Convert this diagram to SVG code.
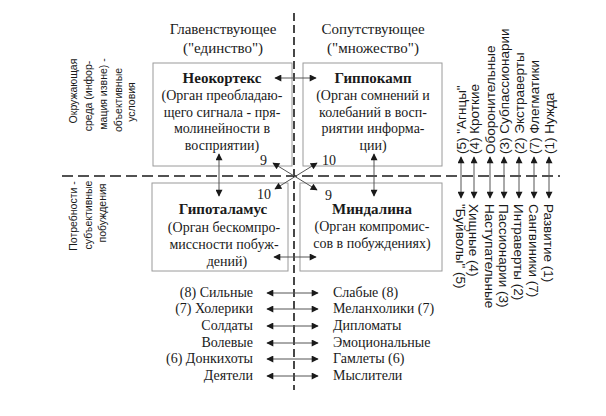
<svg xmlns="http://www.w3.org/2000/svg" width="606" height="416" viewBox="0 0 606 416">
<style>
.bg{fill:#fff}
.box{fill:none;stroke:#9a9a9a;stroke-width:1}
.s{font-family:"Liberation Serif","Times New Roman",serif;font-size:14px;fill:#1a1a1a}
.h{font-family:"Liberation Serif","Times New Roman",serif;font-size:15px;fill:#1a1a1a;text-anchor:middle}
.t{font-family:"Liberation Serif","Times New Roman",serif;font-size:14px;fill:#1a1a1a;text-anchor:middle}
.b{font-weight:bold;font-size:15px}
.n{font-family:"Liberation Serif","Times New Roman",serif;font-size:14px;fill:#1a1a1a}
.v{font-family:"Liberation Sans",Arial,sans-serif;font-size:13.5px;fill:#1a1a1a}
.vl{font-family:"Liberation Sans",Arial,sans-serif;font-size:10.5px;fill:#1a1a1a;text-anchor:middle}
.ax{stroke:#1a1a1a;stroke-width:1.6;fill:none}
.ar{stroke:#555;stroke-width:1;fill:none;marker-start:url(#ah);marker-end:url(#ah)}
.r{text-anchor:end}
</style>
<defs>
<marker id="ah" viewBox="0 0 10 10" refX="9" refY="5" markerWidth="9" markerHeight="7" markerUnits="userSpaceOnUse" orient="auto-start-reverse">
<path d="M0,0 L10,5 L0,10 Z" fill="#1a1a1a"/>
</marker>
</defs>
<rect class="bg" width="606" height="416"/>

<g id="axes">
<line class="ax" x1="294" y1="13" x2="294" y2="390" stroke-dasharray="8 4"/>
<line class="ax" x1="62" y1="176" x2="560" y2="176" stroke-dasharray="11 5"/>
</g>

<g id="headings">
<text class="h" x="223" y="34">Главенствующее</text>
<text class="h" x="223" y="53">("единство")</text>
<text class="h" x="373" y="34">Сопутствующее</text>
<text class="h" x="373" y="53">("множество")</text>
</g>

<g id="neocortex">
<rect class="box" x="153" y="63" width="139" height="103"/>
<text class="t b" x="222" y="83">Неокортекс</text>
<text class="t" x="222" y="100">(Орган преобладаю-</text>
<text class="t" x="222" y="117">щего сигнала - пря-</text>
<text class="t" x="222" y="133">молинейности в</text>
<text class="t" x="222" y="150">восприятии)</text>
</g>

<g id="hippocampus">
<rect class="box" x="303" y="63" width="139" height="103"/>
<text class="t b" x="373" y="83">Гиппокамп</text>
<text class="t" x="373" y="100">(Орган сомнений  и</text>
<text class="t" x="373" y="117">колебаний в восп-</text>
<text class="t" x="373" y="133">риятии  информа-</text>
<text class="t" x="373" y="150">ции)</text>
</g>

<g id="hypothalamus">
<rect class="box" x="152" y="183" width="136" height="88"/>
<text class="t b" x="223" y="214">Гипоталамус</text>
<text class="t" x="224" y="232">(Орган бескомпро-</text>
<text class="t" x="224" y="249">миссности  побуж-</text>
<text class="t" x="227" y="266">дений)</text>
</g>

<g id="amygdala">
<rect class="box" x="300" y="183" width="142" height="88"/>
<text class="t b" x="372" y="214">Миндалина</text>
<text class="t" x="372" y="231">(Орган компромис-</text>
<text class="t" x="372" y="248">сов  в  побуждениях)</text>
</g>

<g id="numbers">
<text class="n" x="260" y="165">9</text>
<text class="n" x="322" y="165">10</text>
<text class="n" x="257" y="199">10</text>
<text class="n" x="325" y="200">9</text>
</g>

<g id="left-labels">
<text class="vl" transform="translate(77,91) rotate(-90)">Окружающая</text>
<text class="vl" transform="translate(92,96) rotate(-90)">среда (инфор-</text>
<text class="vl" transform="translate(107,94) rotate(-90)">мация  извне) -</text>
<text class="vl" transform="translate(122,100) rotate(-90)">объективные</text>
<text class="vl" transform="translate(135,102) rotate(-90)">условия</text>
<text class="vl" transform="translate(77,216) rotate(-90)">Потребности -</text>
<text class="vl" transform="translate(92,215) rotate(-90)">субъективные</text>
<text class="vl" transform="translate(106,213) rotate(-90)">побуждения</text>
</g>

<g id="right-labels-top">
<text class="v" transform="translate(466,154) rotate(-90)">(5) "Агнцы"</text>
<text class="v" transform="translate(479,154) rotate(-90)">(4) Кроткие</text>
<text class="v" transform="translate(495,154) rotate(-90)">Оборонительные</text>
<text class="v" transform="translate(509,154) rotate(-90)">(3) Субпассионарии</text>
<text class="v" transform="translate(524,154) rotate(-90)">(2) Экстраверты</text>
<text class="v" transform="translate(539,154) rotate(-90)">(7) Флегматики</text>
<text class="v" transform="translate(554,154) rotate(-90)">(1) Нужда</text>
</g>

<g id="right-labels-bottom">
<text class="v" transform="translate(456,204) rotate(90)">"Буйволы" (5)</text>
<text class="v" transform="translate(469,204) rotate(90)">Хищные (4)</text>
<text class="v" transform="translate(485,204) rotate(90)">Наступательные</text>
<text class="v" transform="translate(499,204) rotate(90)">Пассионарии (3)</text>
<text class="v" transform="translate(514,204) rotate(90)">Интраверты (2)</text>
<text class="v" transform="translate(529,204) rotate(90)">Сангвиники (7)</text>
<text class="v" transform="translate(544,204) rotate(90)">Развитие (1)</text>
</g>

<g id="list">
<text class="s r" x="253" y="297">(8) Сильные</text>
<text class="s r" x="253" y="313">(7) Холерики</text>
<text class="s r" x="253" y="330">Солдаты</text>
<text class="s r" x="253" y="347">Волевые</text>
<text class="s r" x="253" y="363">(6) Донкихоты</text>
<text class="s r" x="253" y="380">Деятели</text>
<text class="s" x="333" y="297">Слабые (8)</text>
<text class="s" x="333" y="313">Меланхолики (7)</text>
<text class="s" x="333" y="330">Дипломаты</text>
<text class="s" x="333" y="347">Эмоциональные</text>
<text class="s" x="333" y="363">Гамлеты (6)</text>
<text class="s" x="333" y="380">Мыслители</text>
</g>

<g id="connectors">
<line class="ar" x1="275" y1="78" x2="316" y2="78"/>
<line class="ar" x1="274" y1="257" x2="316" y2="257"/>
<line class="ar" x1="219" y1="154" x2="219" y2="196"/>
<line class="ar" x1="374" y1="154" x2="374" y2="196"/>
<line class="ar" x1="273" y1="163" x2="317" y2="190"/>
<line class="ar" x1="275" y1="189" x2="317" y2="163"/>
<line class="ar" x1="267" y1="293" x2="318" y2="293"/>
<line class="ar" x1="267" y1="309" x2="318" y2="309"/>
<line class="ar" x1="267" y1="326" x2="318" y2="326"/>
<line class="ar" x1="267" y1="343" x2="318" y2="343"/>
<line class="ar" x1="267" y1="359" x2="318" y2="359"/>
<line class="ar" x1="267" y1="376" x2="318" y2="376"/>
<line class="ar" x1="461" y1="157" x2="461" y2="198"/>
<line class="ar" x1="474" y1="157" x2="474" y2="198"/>
<line class="ar" x1="490" y1="157" x2="490" y2="198"/>
<line class="ar" x1="504" y1="157" x2="504" y2="198"/>
<line class="ar" x1="519" y1="157" x2="519" y2="198"/>
<line class="ar" x1="534" y1="157" x2="534" y2="198"/>
<line class="ar" x1="549" y1="157" x2="549" y2="198"/>
</g>
</svg>
